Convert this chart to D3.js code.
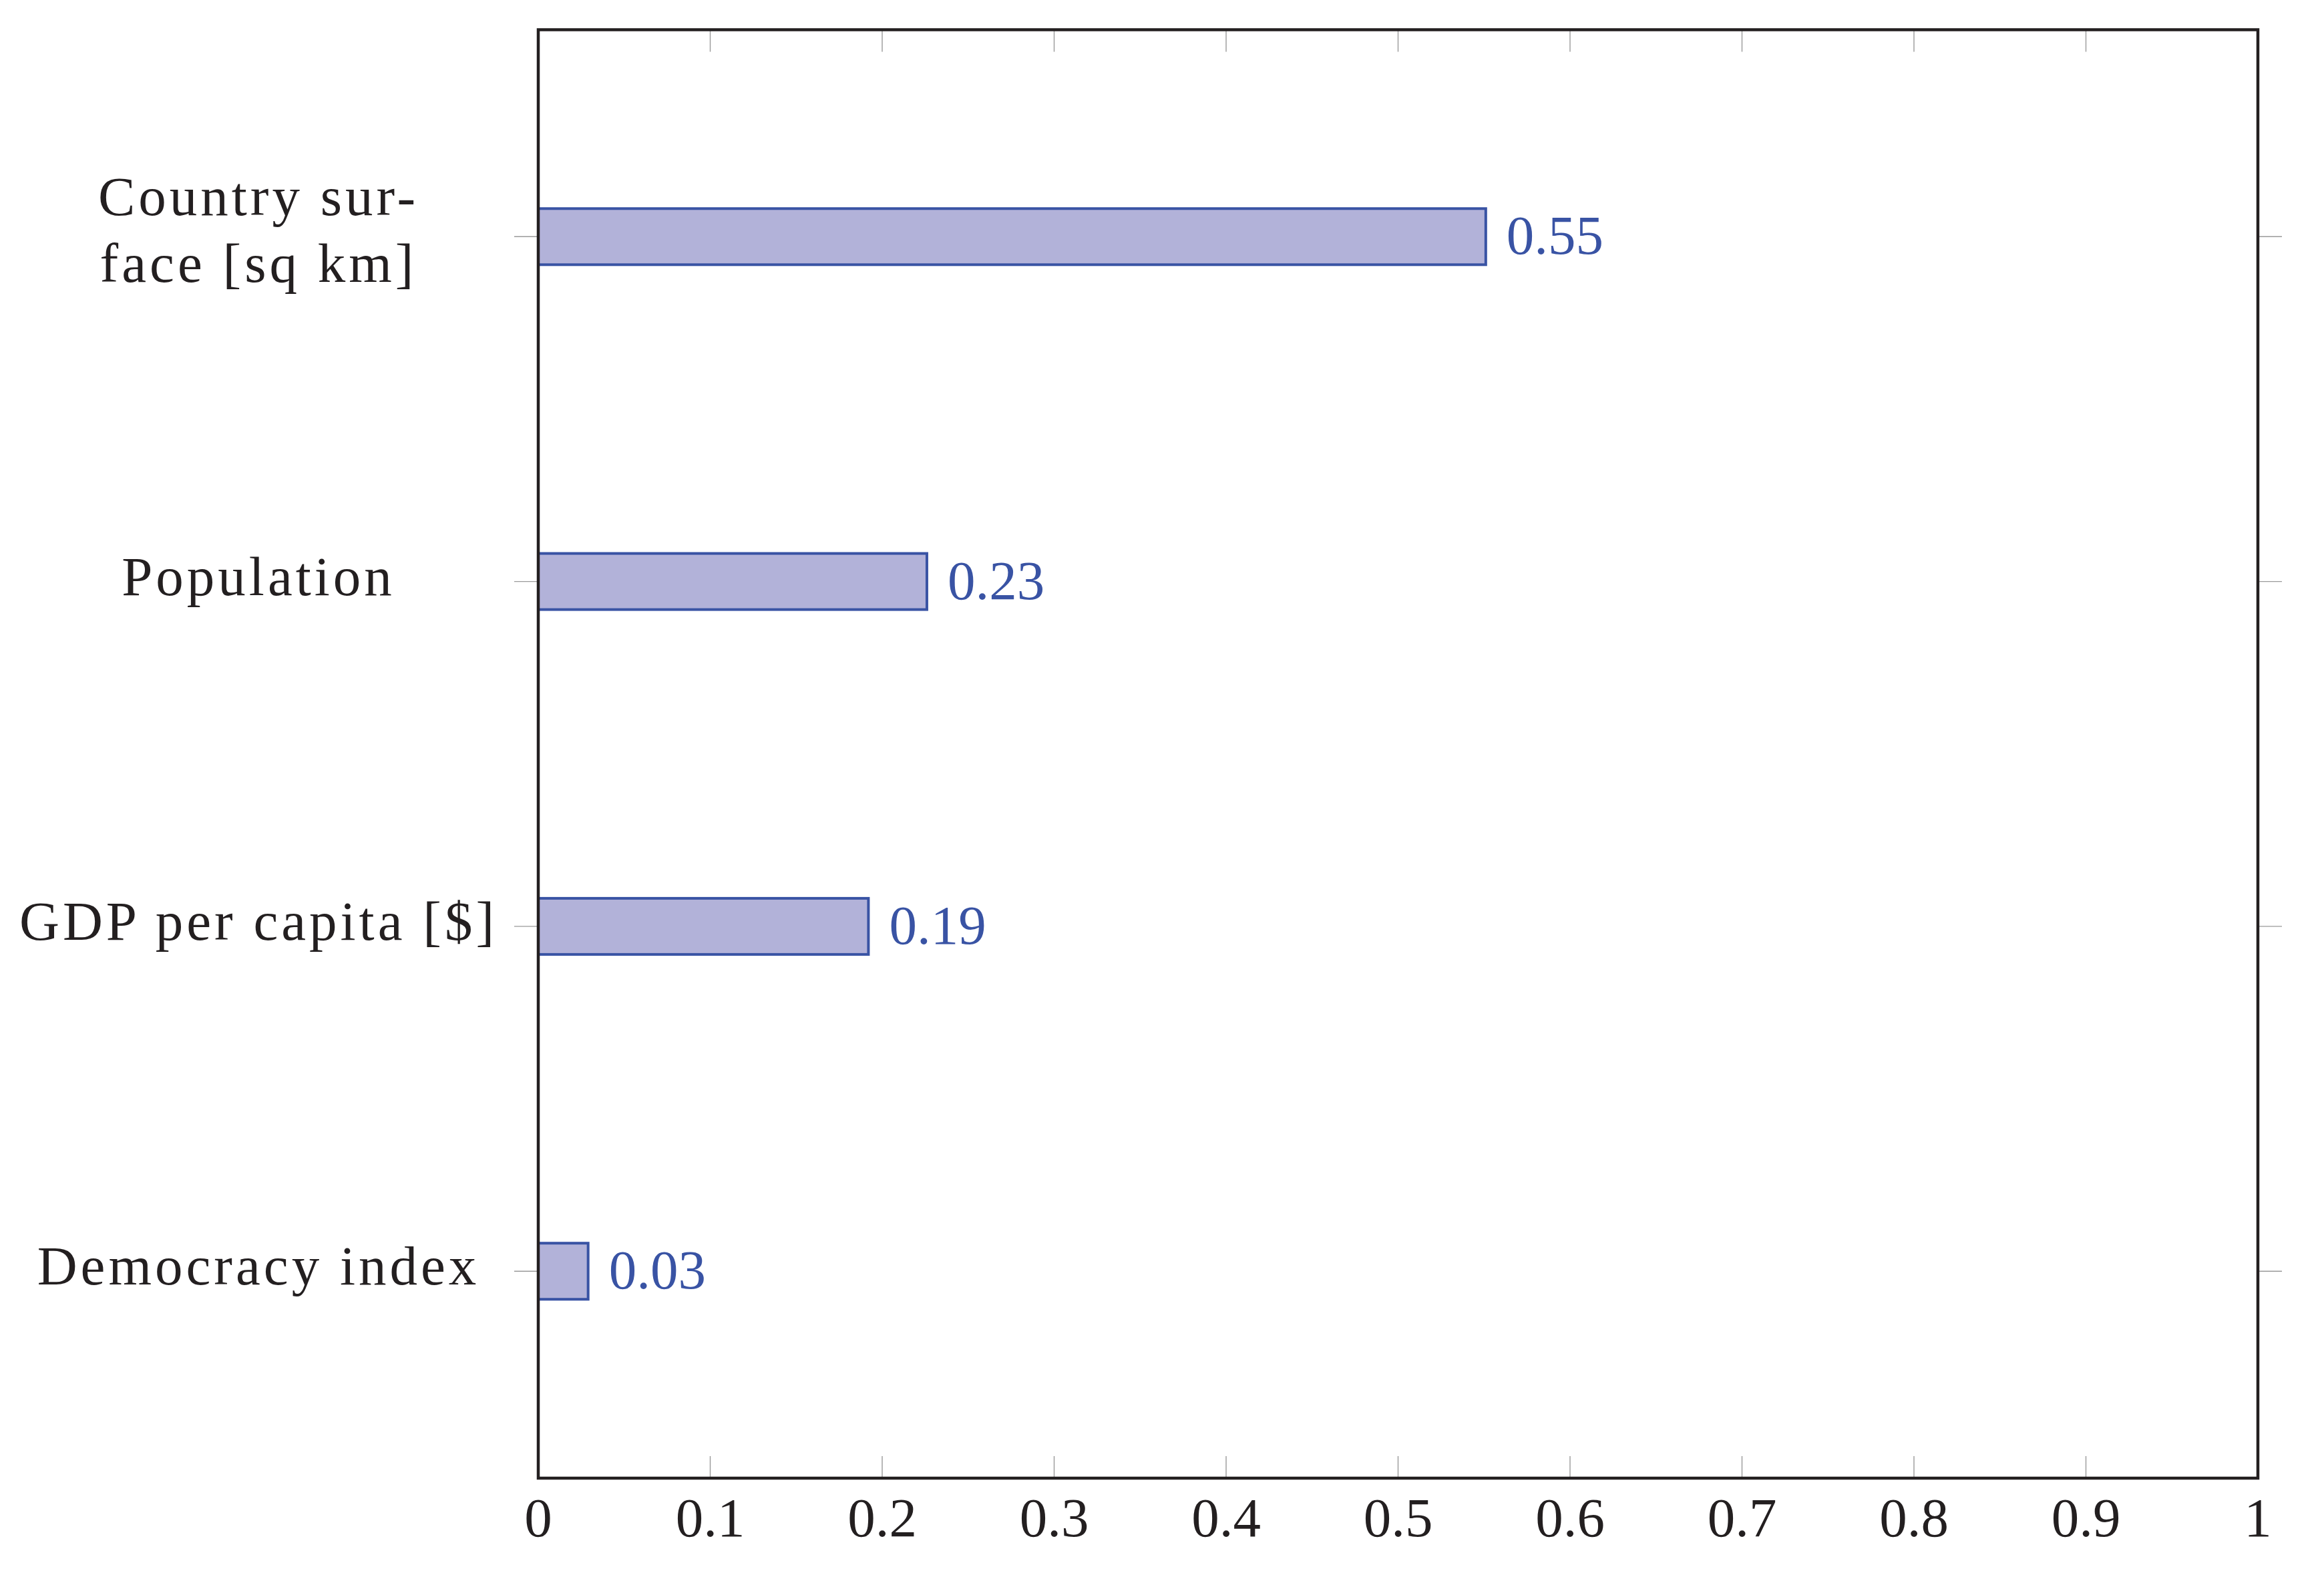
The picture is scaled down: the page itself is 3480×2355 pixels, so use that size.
<!DOCTYPE html>
<html>
<head>
<meta charset="utf-8">
<script src="https://cdn.jsdelivr.net/npm/d3@7"></script>
<style>
  html, body { margin: 0; padding: 0; background: #ffffff; }
  svg { display: block; }
</style>
</head>
<body>
<script>
// ---- data ----
const categories = ["Country surface [sq km]", "Population", "GDP per capita [$]", "Democracy index"];
const categoryLines = [["Country sur-", "face [sq km]"], ["Population"], ["GDP per capita [$]"], ["Democracy index"]];
const values = [0.551, 0.226, 0.192, 0.029];
const valueLabels = ["0.55", "0.23", "0.19", "0.03"];
const xTicks = [0, 0.1, 0.2, 0.3, 0.4, 0.5, 0.6, 0.7, 0.8, 0.9, 1];
const xTickLabels = ["0", "0.1", "0.2", "0.3", "0.4", "0.5", "0.6", "0.7", "0.8", "0.9", "1"];

// ---- layout ----
const W = 3480, H = 2355;
const plotLeft = 806, plotRight = 3381, plotTop = 44.5, plotBottom = 2213;
const fontFamily = "'Liberation Serif', 'Times New Roman', serif";
const fontSize = 83;
const textColor = "#231f20";
const barFill = "#b2b2d9";
const barStroke = "#3953a4";
const tickColor = "#9a9a9a";
const barHeight = 84;

const svg = d3.select("body").append("svg")
  .attr("width", W).attr("height", H)
  .attr("viewBox", `0 0 ${W} ${H}`);

const x = d3.scaleLinear().domain([0, 1]).range([plotLeft, plotRight]);
const y = d3.scalePoint().domain(categories).range([plotTop, plotBottom]).padding(0.6);

// x ticks (inside, top and bottom)
const xt = svg.append("g");
xt.append("g").selectAll("line").data(xTicks.slice(1, -1)).join("line")
  .attr("x1", d => x(d)).attr("x2", d => x(d))
  .attr("y1", plotBottom).attr("y2", plotBottom - 33)
  .attr("stroke", tickColor).attr("stroke-width", 1.4);
xt.append("g").selectAll("line").data(xTicks.slice(1, -1)).join("line")
  .attr("x1", d => x(d)).attr("x2", d => x(d))
  .attr("y1", plotTop).attr("y2", plotTop + 33)
  .attr("stroke", tickColor).attr("stroke-width", 1.4);

// y ticks (outside, left and right)
const yt = svg.append("g");
yt.append("g").selectAll("line").data(categories).join("line")
  .attr("x1", plotLeft - 36).attr("x2", plotLeft)
  .attr("y1", d => y(d)).attr("y2", d => y(d))
  .attr("stroke", tickColor).attr("stroke-width", 1.4);
yt.append("g").selectAll("line").data(categories).join("line")
  .attr("x1", plotRight).attr("x2", plotRight + 36)
  .attr("y1", d => y(d)).attr("y2", d => y(d))
  .attr("stroke", tickColor).attr("stroke-width", 1.4);

// bars
svg.append("g").selectAll("rect").data(categories).join("rect")
  .attr("x", x(0))
  .attr("y", d => y(d) - barHeight / 2)
  .attr("width", (d, i) => x(values[i]) - x(0))
  .attr("height", barHeight)
  .attr("fill", barFill)
  .attr("stroke", barStroke)
  .attr("stroke-width", 4);

// value labels
svg.append("g").selectAll("text").data(categories).join("text")
  .attr("x", (d, i) => x(values[i]) + 31)
  .attr("y", d => y(d) + 26)
  .attr("font-family", fontFamily)
  .attr("font-size", fontSize)
  .attr("fill", barStroke)
  .text((d, i) => valueLabels[i]);

// frame
svg.append("rect")
  .attr("x", plotLeft).attr("y", plotTop)
  .attr("width", plotRight - plotLeft).attr("height", plotBottom - plotTop)
  .attr("fill", "none")
  .attr("stroke", textColor)
  .attr("stroke-width", 4.5);

// x tick labels
svg.append("g").selectAll("text").data(xTicks).join("text")
  .attr("x", d => x(d))
  .attr("y", plotBottom + 87)
  .attr("text-anchor", "middle")
  .attr("font-family", fontFamily)
  .attr("font-size", fontSize)
  .attr("fill", textColor)
  .text((d, i) => xTickLabels[i]);

// y category labels
const labelCenterX = 387;
const yl = svg.append("g");
categories.forEach((c, i) => {
  const lines = categoryLines[i];
  const t = yl.append("text")
    .attr("text-anchor", "middle")
    .attr("font-family", fontFamily)
    .attr("font-size", fontSize)
    .attr("letter-spacing", 5)
    .attr("fill", textColor);
  const lineGap = 100;
  const firstBaseline = lines.length > 1 ? y(c) - 32 : y(c) + 20;
  lines.forEach((ln, k) => {
    t.append("tspan")
      .attr("x", labelCenterX)
      .attr("y", firstBaseline + k * lineGap)
      .text(ln);
  });
});
</script>
</body>
</html>
